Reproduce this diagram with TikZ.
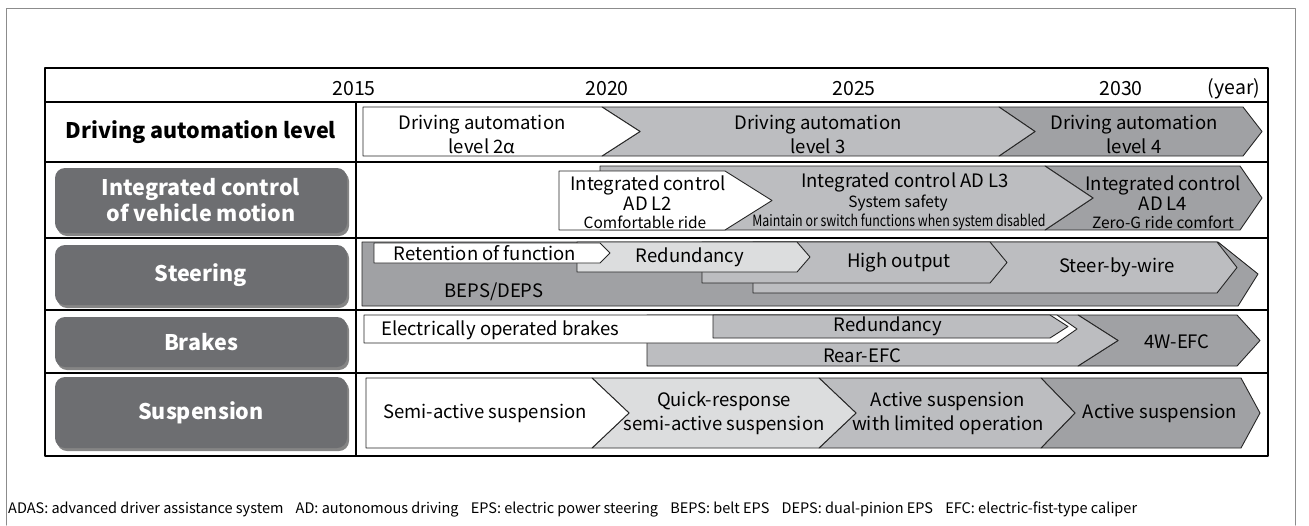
\documentclass[tikz,border=0pt]{standalone}
\usepackage{fontspec}
\setmainfont{Noto Sans CJK JP}
\usetikzlibrary{shadows}
\definecolor{chevA}{HTML}{DCDDDE}
\definecolor{chevB}{HTML}{BCBDC0}
\definecolor{chevC}{HTML}{A0A1A4}
\definecolor{labgray}{HTML}{6D6E71}
\begin{document}
\begin{tikzpicture}[x=1pt, y=-1pt, line join=round, line cap=round]

	\tikzset{chev/.style={draw=black!85, line width=0.9pt},
		txt/.style={font=\fontsize{18.5}{24}\selectfont, align=center, inner sep=0pt},
		sub/.style={font=\fontsize{15.5}{18}\selectfont, inner sep=0pt},
		yrs/.style={font=\fontsize{19.5}{24}\selectfont, inner sep=0pt},
		lbl/.style={rounded corners=10pt, fill=labgray, text=white, align=center, inner sep=0pt,
			font=\fontsize{21.5}{26}\selectfont\bfseries, minimum width=292pt,
			drop shadow={shadow xshift=2pt, shadow yshift=-3pt, fill=black!80, opacity=0.6}}}

	\useasboundingbox (0,0) rectangle (1309,525);
	\draw[black!45, line width=1pt] (6,525) -- (6,8) -- (1295,8) -- (1295,525);

	\draw[line width=1.6pt] (45,68) rectangle (1268,456);
	\foreach \y in {102,162,238,310,373}
	\draw[line width=1.1pt] (45,\y) -- (1268,\y);
	\draw[line width=1.6pt] (356,102) -- (356,456);

	\foreach \yr/\x in {2015/354,2020/607,2025/854,2030/1121}
	\node[yrs] (y\yr) at (\x,89) {\yr};
	\node[yrs] (unit) at (1234,89) {(year)};

	\node[font=\fontsize{21.5}{26}\selectfont\bfseries, inner sep=0pt] (lblDrive) at (201,132) {Driving automation level};
	\node[lbl, minimum height=65pt] (lblInteg) at (201,200.5) {Integrated control\\of vehicle motion};
	\node[lbl, minimum height=60pt] (lblSteer) at (201,275) {Steering};
	\node[lbl, minimum height=50pt] (lblBrake) at (201,342) {Brakes};
	\node[lbl, minimum height=71pt] (lblSusp) at (201,412.5) {Suspension};

	\foreach \xa/\xb/\xt/\nd/\c in {999/1243/1262/1035/chevC, 602/999/1035/640/chevB, 363/602/640/363/white}
	\draw[chev, fill=\c] (\xa,107) -- (\xb,107) -- (\xt,131.5) -- (\xb,156) -- (\xa,156) -- (\nd,131.5) -- cycle;
	\node[txt] (lvTwo) at (482,134) {Driving automation\\level 2α};
	\node[txt] (lvThree) at (818,134) {Driving automation\\level 3};
	\node[txt] (lvFour) at (1134,134) {Driving automation\\level 4};

	\draw[chev, fill=chevC] (1045,166) -- (1240,166) -- (1262,198) -- (1240,230) -- (1045,230) -- (1093,198) -- cycle;
	\draw[chev, fill=chevB] (600,166) -- (1045,166) -- (1093,198) -- (1045,230) -- (600,230) -- cycle;
	\draw[chev, fill=white] (559,171) -- (725,171) -- (772,200.5) -- (725,230) -- (559,230) -- cycle;
	\node[txt, font=\fontsize{18.5}{20}\selectfont] (adTwo) at (648,193) {Integrated control\\AD L2};
	\node[sub] (adTwoSub) at (645,222) {Comfortable ride};
	\node[txt] (adThree) at (905,182) {Integrated control AD L3};
	\node[sub] (adThreeSafe) at (898,203) {System safety};
	\node[sub] (adThreeSub) at (899,222) {\scalebox{0.8}[1]{Maintain or switch functions when system disabled}};
	\node[txt, font=\fontsize{18.5}{20}\selectfont] (adFour) at (1163,193) {Integrated control\\AD L4};
	\node[sub] (adFourSub) at (1163,222) {Zero-G ride comfort};

	\draw[chev, fill=chevC] (362,242) -- (1218,242) -- (1258,274) -- (1238,306) -- (362,306) -- cycle;
	\draw[chev, fill=chevB] (753,242) -- (1217,242) -- (1237,267.5) -- (1217,293) -- (753,293) -- cycle;
	\draw[chev, fill=chevB] (702,242) -- (990,242) -- (1007,262.5) -- (990,283) -- (702,283) -- cycle;
	\draw[chev, fill=chevA] (577,242) -- (797,242) -- (810,257) -- (797,272) -- (577,272) -- cycle;
	\draw[chev, fill=white] (374,243) -- (600,243) -- (610,253) -- (600,263) -- (374,263) -- cycle;
	\node[txt] (retain) at (485,253) {Retention of function};
	\node[txt] (redSteer) at (690,257) {Redundancy};
	\node[txt] (highOut) at (899,262) {High output};
	\node[txt] (sbw) at (1117,267) {Steer-by-wire};
	\node[txt] (beps) at (494,292) {BEPS/DEPS};

	\draw[chev, fill=chevC] (1078,315) -- (1237,315) -- (1260,340.5) -- (1237,366) -- (1078,366) -- (1118,340.5) -- cycle;
	\draw[chev, fill=chevB] (647,315) -- (1078,315) -- (1118,340.5) -- (1078,366) -- (647,366) -- cycle;
	\draw[chev, fill=white] (364,315) -- (1057,315) -- (1077,329) -- (1057,343) -- (364,343) -- cycle;
	\draw[chev, fill=chevB] (713,315) -- (1050,315) -- (1068,326.5) -- (1050,338) -- (713,338) -- cycle;
	\node[txt, anchor=west] (elecBrk) at (381,330) {Electrically operated brakes};
	\node[txt] (redBrk) at (888,326) {Redundancy};
	\node[txt] (rearEfc) at (862,356) {Rear-EFC};
	\node[txt] (fourEfc) at (1177,342) {4W-EFC};

	\foreach \xa/\xb/\xt/\nd/\c in {1041/1241/1260/1075/chevC, 819/1041/1075/856/chevB, 592/819/856/629/chevA, 366/592/629/366/white}
	\draw[chev, fill=\c] (\xa,378) -- (\xb,378) -- (\xt,413) -- (\xb,448) -- (\xa,448) -- (\nd,413) -- cycle;
	\node[txt] (semiAct) at (485,413) {Semi-active suspension};
	\node[txt] (quickResp) at (724,413.5) {Quick-response\\semi-active suspension};
	\node[txt] (actLim) at (948,413.5) {Active suspension\\with limited operation};
	\node[txt] (actSusp) at (1160,413) {Active suspension};

	\node[anchor=west, inner sep=0pt, font=\fontsize{14.5}{16}\selectfont] (notes) at (8,509) {ADAS: advanced driver assistance system\hspace{9pt} AD: autonomous driving\hspace{9pt} EPS: electric power steering\hspace{9pt} BEPS: belt EPS\hspace{9pt} DEPS: dual-pinion EPS\hspace{9pt} EFC: electric-fist-type caliper};
\end{tikzpicture}
\end{document}
